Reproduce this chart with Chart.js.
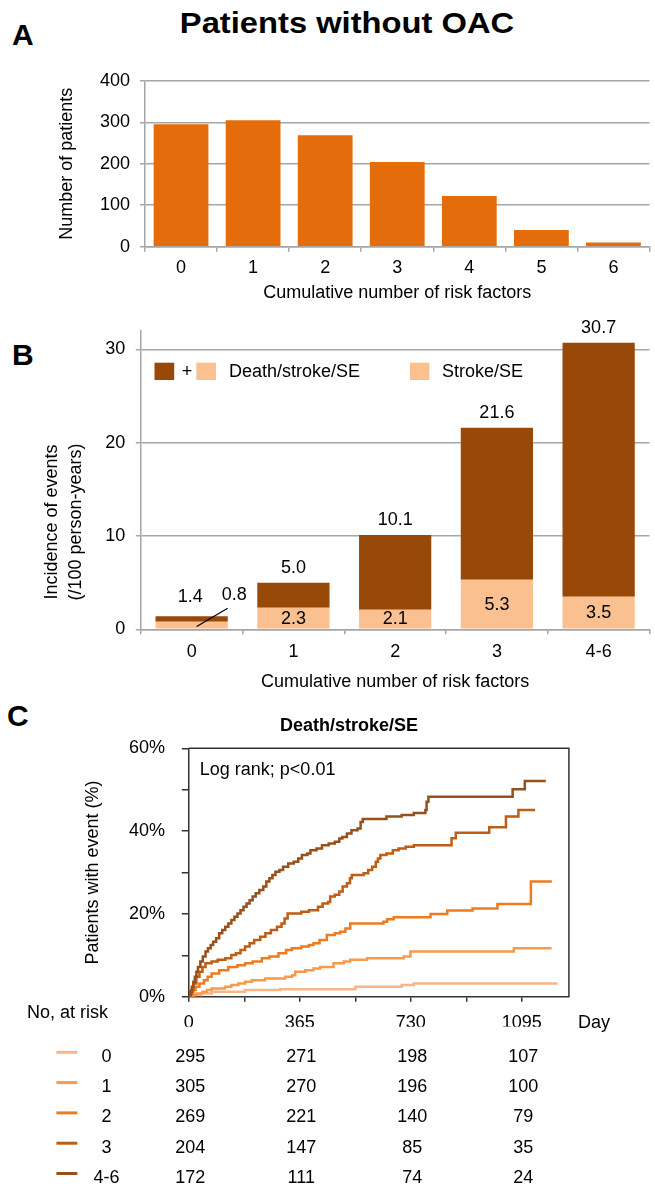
<!DOCTYPE html>
<html>
<head>
<meta charset="utf-8">
<script src="https://cdn.jsdelivr.net/npm/chart.js@4.4.1/dist/chart.umd.min.js"></script>
<style>
  body { margin: 0; background: #fff; width: 655px; height: 1190px; position: relative; overflow: hidden;
         font-family: "Liberation Sans", Arial, Helvetica, sans-serif; }
  canvas { position: absolute; left: 0; }
  .big { position: absolute; font-weight: bold; font-size: 30px; line-height: 30px; color: #000; white-space: nowrap; }
</style>
</head>
<body>
<div class="big" style="left:346.7px; top:8px; transform: translateX(-50%) scaleX(1.09);">Patients without OAC</div>
<div class="big" style="left:12px; top:19.6px;">A</div>
<div class="big" style="left:12px; top:339.6px;">B</div>
<div class="big" style="left:7px; top:700.6px;">C</div>

<canvas id="chartA" width="655" height="245" style="top:60px"></canvas>
<canvas id="chartB" width="655" height="395" style="top:305px"></canvas>
<canvas id="chartC" width="655" height="490" style="top:700px"></canvas>

<script>
// panel A: patients by number of risk factors
var riskCats = ['0', '1', '2', '3', '4', '5', '6'];
var patients = [295, 305, 269, 204, 122, 40, 10];

// panel B: incidence (/100 person-years)
var eventCats = ['0', '1', '2', '3', '4-6'];
var deathStrokeSE = [1.4, 5.0, 10.1, 21.6, 30.7];
var strokeSE = [0.8, 2.3, 2.1, 5.3, 3.5];
var incidenceTicks = [0, 10, 20, 30];

// panel C: cumulative incidence of death/stroke/SE (days, %)
var km0Days = [0, 15, 40, 75, 185, 300, 548, 700, 740, 1213];
var km0Pct = [0, 0.4, 0.8, 1.2, 1.6, 1.8, 2.4, 2.8, 3.2, 3.2];
var km1Days = [0, 10, 25, 45, 60, 75, 119, 140, 163, 185, 207, 251, 317, 340, 350, 383, 410, 432, 476, 510, 531, 586, 707, 729, 1069, 1193];
var km1Pct = [0, 0.4, 0.8, 1.2, 1.6, 2.0, 2.4, 2.8, 3.2, 3.6, 4.0, 4.4, 4.8, 5.2, 6.0, 6.4, 6.8, 7.2, 8.1, 8.5, 8.9, 9.3, 9.7, 10.9, 11.7, 11.7];
var km2Days = [0, 8, 15, 22, 35, 50, 62, 75, 100, 130, 160, 185, 210, 240, 265, 295, 320, 339, 370, 395, 410, 430, 454, 480, 498, 515, 531, 640, 652, 674, 795, 850, 933, 1015, 1125, 1194];
var km2Pct = [0, 0.8, 1.6, 2.4, 3.2, 4.0, 4.8, 5.6, 6.4, 7.2, 7.6, 8.1, 8.5, 9.3, 9.7, 10.5, 11.3, 11.7, 12.1, 12.5, 12.9, 13.7, 14.9, 15.3, 15.7, 16.5, 17.7, 18.1, 18.7, 19.2, 20.0, 20.8, 21.3, 22.4, 27.8, 27.8];
var km3Days = [0, 8, 15, 25, 35, 45, 55, 75, 95, 120, 140, 155, 170, 185, 200, 215, 235, 252, 270, 290, 305, 315, 325, 370, 395, 425, 440, 458, 465, 480, 495, 506, 520, 530, 536, 575, 590, 603, 615, 622, 630, 650, 671, 690, 713, 740, 864, 878, 988, 1043, 1084, 1139];
var km3Pct = [0, 1.6, 3.2, 4.8, 6.0, 7.2, 8.1, 8.5, 8.9, 9.3, 10.1, 10.5, 11.3, 12.1, 12.9, 13.7, 14.5, 15.3, 16.1, 16.9, 17.7, 18.9, 20.1, 20.5, 20.9, 21.7, 22.5, 22.9, 24.2, 24.6, 25.4, 26.6, 27.4, 28.6, 29.4, 29.8, 30.6, 31.4, 32.6, 33.4, 34.2, 34.6, 35.4, 35.8, 36.2, 36.6, 38.3, 39.6, 40.9, 43.5, 45.1, 45.1];
var km46Days = [0, 5, 10, 15, 20, 25, 30, 38, 46, 55, 63, 72, 80, 90, 100, 110, 120, 130, 140, 150, 160, 170, 180, 190, 200, 210, 220, 232, 245, 255, 265, 275, 285, 298, 310, 327, 345, 360, 372, 390, 400, 420, 438, 460, 480, 495, 505, 520, 535, 555, 565, 572, 650, 700, 740, 778, 782, 788, 1065, 1105, 1174];
var km46Pct = [0, 1.2, 2.4, 3.6, 4.8, 6.0, 7.2, 8.5, 9.7, 10.9, 11.7, 12.5, 13.3, 14.1, 15.3, 16.1, 16.9, 17.7, 18.5, 19.3, 20.1, 20.9, 21.7, 22.5, 23.3, 24.2, 25.0, 25.8, 26.6, 27.8, 28.6, 29.4, 30.2, 30.6, 31.4, 32.2, 32.6, 33.4, 34.2, 34.6, 35.4, 35.8, 36.6, 37.0, 37.4, 38.2, 38.6, 39.4, 40.2, 40.6, 42.2, 42.9, 43.5, 43.9, 44.4, 45.1, 47.1, 48.3, 50.1, 52.1, 52.1];
var dayTicks = [0, 182.5, 365, 547.5, 730, 912.5, 1095];

// numbers at risk
var riskGroups = ['0', '1', '2', '3', '4-6'];
var atRiskDays = [0, 365, 730, 1095];
var atRisk0 = [295, 271, 198, 107];
var atRisk1 = [305, 270, 196, 100];
var atRisk2 = [269, 221, 140, 79];
var atRisk3 = [204, 147, 85, 35];
var atRisk46 = [172, 111, 74, 24];

var groupColors = ['#f8b585', '#f79a4e', '#ec7c22', '#bc5e16', '#96501c'];
var fontFam = '"Liberation Sans", Arial, Helvetica, sans-serif';
var gridGrey = '#a6a6a6';

Chart.defaults.font.family = fontFam;
Chart.defaults.font.size = 18;
Chart.defaults.color = '#000';
Chart.defaults.animation = false;
Chart.defaults.responsive = false;
Chart.defaults.devicePixelRatio = 1;
Chart.defaults.plugins.legend.display = false;
Chart.defaults.plugins.tooltip.enabled = false;

// ---------- A ----------
new Chart(document.getElementById('chartA'), {
    type: 'bar',
    data: {
        labels: riskCats,
        datasets: [{ data: patients, backgroundColor: '#e46c0a', categoryPercentage: 1, barPercentage: 0.76 }]
    },
    options: {
        layout: { padding: { left: 56, right: 5.5, top: 17.7, bottom: 0.9 } },
        scales: {
            x: {
                grid: { offset: true, drawOnChartArea: false, tickLength: 5, color: gridGrey, lineWidth: 1.5 },
                border: { color: gridGrey, width: 1.5 },
                ticks: { padding: 6, maxRotation: 0 },
                title: { display: true, text: 'Cumulative number of risk factors', padding: 0 },
                afterFit: function (s) { s.height = 57.4; }
            },
            y: {
                min: 0, max: 400,
                ticks: { stepSize: 100, padding: 10 },
                grid: { tickLength: 5, color: gridGrey, lineWidth: 1.5 },
                border: { color: gridGrey, width: 1.5 },
                title: { display: true, text: 'Number of patients', padding: 0 },
                afterFit: function (s) { s.width = 89; }
            }
        }
    }
});

// ---------- B ----------
var labelsB = {
    id: 'labelsB',
    afterDraw: function (chart) {
        var ctx = chart.ctx, y = chart.scales.y, bars = chart.getDatasetMeta(1).data;
        ctx.save();
        ctx.font = '18px ' + fontFam;
        ctx.fillStyle = '#000';
        ctx.textAlign = 'center';
        ctx.textBaseline = 'middle';
        bars.forEach(function (bar, i) {
            var top = y.getPixelForValue(deathStrokeSE[i]);
            if (i === 0) {
                ctx.fillText(deathStrokeSE[i].toFixed(1), bar.x - 1.5, top - 19.5);
                ctx.fillText(strokeSE[i].toFixed(1), bar.x + 42.5, top - 21);
                ctx.beginPath();
                ctx.moveTo(bar.x + 36, top - 8);
                ctx.lineTo(bar.x + 5, y.getPixelForValue(strokeSE[i] / 2) + 1);
                ctx.lineWidth = 1.2;
                ctx.strokeStyle = '#000';
                ctx.stroke();
            } else {
                ctx.fillText(deathStrokeSE[i].toFixed(1), bar.x, top - 15);
                ctx.fillText(strokeSE[i].toFixed(1), bar.x, y.getPixelForValue(strokeSE[i] / 2));
            }
        });

        // legend
        ctx.fillStyle = '#984807';
        ctx.fillRect(154.5, 57.7, 19.7, 17.3);
        ctx.fillStyle = '#fac090';
        ctx.fillRect(196.3, 57.7, 19.7, 17.3);
        ctx.fillRect(410, 57.7, 19.4, 17.3);
        ctx.fillStyle = '#000';
        ctx.fillText('+', 187, 66.7);
        ctx.textAlign = 'left';
        ctx.fillText('Death/stroke/SE', 228.9, 66.7);
        ctx.fillText('Stroke/SE', 442, 66.7);

        // y title, two lines
        ctx.textAlign = 'center';
        ctx.translate(52, 217);
        ctx.rotate(-Math.PI / 2);
        ctx.fillText('Incidence of events', 0, 0);
        ctx.fillText('(/100 person-years)', 0, 24.4);
        ctx.restore();
    }
};

new Chart(document.getElementById('chartB'), {
    type: 'bar',
    data: {
        labels: eventCats,
        datasets: [
            { data: strokeSE, backgroundColor: '#fac090', categoryPercentage: 1, barPercentage: 0.71 },
            { data: deathStrokeSE.map(function (v, i) { return +(v - strokeSE[i]).toFixed(1); }),
              backgroundColor: '#984807', categoryPercentage: 1, barPercentage: 0.71 }
        ]
    },
    options: {
        layout: { padding: { left: 0, right: 5.5, top: 25.7, bottom: 7.5 } },
        scales: {
            x: {
                stacked: true,
                grid: { offset: true, drawOnChartArea: false, tickLength: 5, color: gridGrey, lineWidth: 1.5 },
                border: { color: gridGrey, width: 1.5 },
                ticks: { padding: 6.6, maxRotation: 0 },
                title: { display: true, text: 'Cumulative number of risk factors', padding: 0 },
                afterFit: function (s) { s.height = 63.2; }
            },
            y: {
                stacked: true,
                min: 0, max: 32,
                ticks: { padding: 10.5 },
                afterBuildTicks: function (s) { s.ticks = incidenceTicks.map(function (v) { return { value: v }; }); },
                grid: { tickLength: 5, color: gridGrey, lineWidth: 1.5 },
                border: { color: gridGrey, width: 1.5 },
                afterFit: function (s) { s.width = 140.8; }
            }
        }
    },
    plugins: [labelsB]
});

// ---------- C ----------
var kmSeries = [
    [km46Days, km46Pct, 4],
    [km3Days, km3Pct, 3],
    [km2Days, km2Pct, 2],
    [km1Days, km1Pct, 1],
    [km0Days, km0Pct, 0]
];
var atRiskRows = [atRisk0, atRisk1, atRisk2, atRisk3, atRisk46];

var extrasC = {
    id: 'extrasC',
    afterDraw: function (chart) {
        var ctx = chart.ctx, a = chart.chartArea, x = chart.scales.x;
        ctx.save();
        // frame
        ctx.strokeStyle = '#333';
        ctx.lineWidth = 1.5;
        ctx.beginPath();
        ctx.moveTo(a.left, a.top);
        ctx.lineTo(a.right, a.top);
        ctx.lineTo(a.right, a.bottom);
        ctx.stroke();

        ctx.fillStyle = '#000';
        ctx.textBaseline = 'middle';
        ctx.textAlign = 'center';
        ctx.font = 'bold 18px ' + fontFam;
        ctx.fillText('Death/stroke/SE', 349, 25.7);

        ctx.font = '18px ' + fontFam;
        ctx.textAlign = 'left';
        ctx.fillText('Log rank; p<0.01', a.left + 11, a.top + 21.7);
        ctx.fillText('No, at risk', 27, a.bottom + 16.6);
        ctx.textAlign = 'center';
        ctx.fillText('Day', 594, a.bottom + 26.6);

        riskGroups.forEach(function (g, i) {
            var ry = a.bottom + 60 + i * 30.3;
            ctx.strokeStyle = groupColors[i];
            ctx.lineWidth = 3;
            ctx.beginPath();
            ctx.moveTo(56.4, ry - 4.4);
            ctx.lineTo(77.3, ry - 4.4);
            ctx.stroke();
            ctx.fillText(g, 106.5, ry);
            atRiskRows[i].forEach(function (n, j) {
                ctx.fillText(String(n), x.getPixelForValue(atRiskDays[j]) + 1.5, ry);
            });
        });
        ctx.restore();
    }
};

new Chart(document.getElementById('chartC'), {
    type: 'line',
    data: {
        datasets: kmSeries.map(function (s) {
            return {
                data: s[0].map(function (d, i) { return { x: d, y: s[1][i] }; }),
                borderColor: groupColors[s[2]],
                borderWidth: 2.5,
                stepped: true,
                pointRadius: 0,
                fill: false
            };
        })
    },
    options: {
        layout: { padding: { left: 82, right: 86.1, top: 48.3, bottom: 163.3 } },
        scales: {
            x: {
                type: 'linear',
                min: 0, max: 1250,
                afterBuildTicks: function (s) {
                    s.ticks = dayTicks.map(function (v) { return { value: v }; });
                },
                ticks: {
                    autoSkip: false, maxRotation: 0, padding: 10.8,
                    callback: function (v) { return v % 365 === 0 ? String(v) : ''; }
                },
                grid: { drawOnChartArea: false, tickLength: 5, color: '#333', lineWidth: 1.5 },
                border: { color: '#333', width: 1.5 },
                afterFit: function (s) { s.height = 30; }
            },
            y: {
                min: 0, max: 60,
                ticks: {
                    stepSize: 10, padding: 16.8, autoSkip: false,
                    callback: function (v) { return v % 20 === 0 ? v + '%' : ''; }
                },
                grid: { drawOnChartArea: false, tickLength: 7, color: '#333', lineWidth: 1.5 },
                border: { color: '#333', width: 1.5 },
                title: { display: true, text: 'Patients with event (%)', padding: 0 },
                afterFit: function (s) { s.width = 106.8; }
            }
        }
    },
    plugins: [extrasC]
});
</script>
</body>
</html>
